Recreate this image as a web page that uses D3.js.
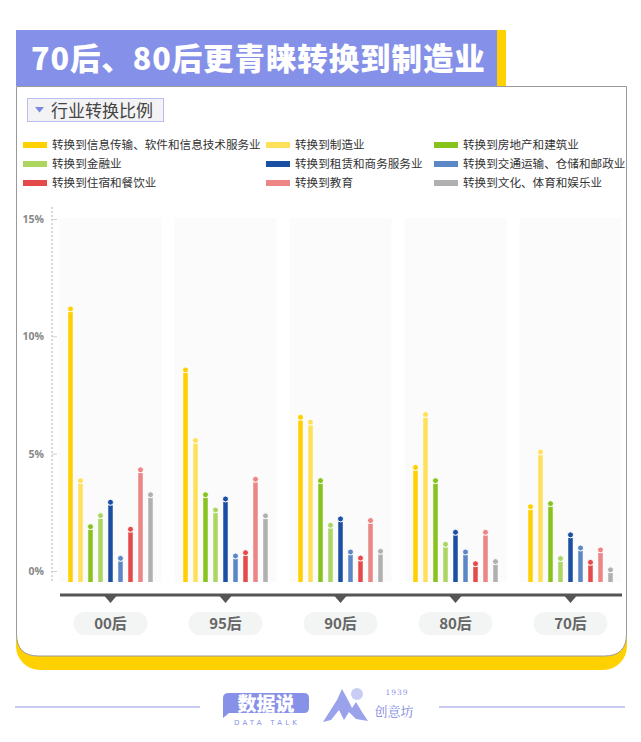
<!DOCTYPE html>
<html><head><meta charset="utf-8">
<script src="https://cdn.jsdelivr.net/npm/d3@7/dist/d3.min.js"></script>
<style>
html,body{margin:0;padding:0;background:#fff;}
svg{display:block;font-family:"Noto Sans CJK SC","Noto Sans",sans-serif;}
</style></head>
<body>
<svg id="c" width="641" height="742"></svg>
<script>
const title = "70后、80后更青睐转换到制造业";
const subtitle = "行业转换比例";
const groups = ["00后","95后","90后","80后","70后"];
const series = [
  "转换到信息传输、软件和信息技术服务业","转换到制造业","转换到房地产和建筑业",
  "转换到金融业","转换到租赁和商务服务业","转换到交通运输、仓储和邮政业",
  "转换到住宿和餐饮业","转换到教育","转换到文化、体育和娱乐业"
];
const colors = ["#ffd000","#ffe05a","#88c21c","#acd660","#1a4fa3","#5c87c6","#e44a4a","#ec8585","#b0b0b0"];
// values (%) per series, in order of groups
const v_it      = [11.17, 8.57, 6.55, 4.41, 2.74];
const v_mfg     = [3.85, 5.56, 6.34, 6.67, 5.07];
const v_estate  = [1.89, 3.25, 3.85, 3.85, 2.87];
const v_finance = [2.36, 2.60, 1.95, 1.14, 0.53];
const v_lease   = [2.93, 3.07, 2.22, 1.65, 1.54];
const v_trans   = [0.54, 0.64, 0.81, 0.81, 0.98];
const v_hotel   = [1.78, 0.78, 0.55, 0.31, 0.37];
const v_edu     = [4.31, 3.91, 2.15, 1.65, 0.90];
const v_culture = [3.25, 2.35, 0.84, 0.40, 0.05];
const seriesValues = [v_it, v_mfg, v_estate, v_finance, v_lease, v_trans, v_hotel, v_edu, v_culture];
const yTicks = [0, 5, 10, 15];

const svg = d3.select("#c");
svg.append("rect").attr("width",641).attr("height",742).attr("fill","#fff");

// yellow shadow + card
svg.append("rect").attr("x",16).attr("y",300).attr("width",611).attr("height",370).attr("rx",24).attr("fill","#ffd100");
const L=16.5,R=626.5,T=86.5,B=656,rr=22;
svg.append("path")
  .attr("d",`M${L},${T}H${R}V${B-rr}Q${R},${B} ${R-rr},${B}H${L+rr}Q${L},${B} ${L},${B-rr}Z`)
  .attr("fill","#fff").attr("stroke","#9a9a9a").attr("stroke-width",1);

// title band
svg.append("rect").attr("x",16).attr("y",30).attr("width",481).attr("height",56).attr("fill","#8591e8");
svg.append("rect").attr("x",497).attr("y",30).attr("width",9).attr("height",56).attr("fill","#ffd100");
svg.append("text").attr("x",31).attr("y",70).attr("fill","#fff")
  .attr("font-size",30.5).attr("font-weight",900).attr("letter-spacing",0.9).text(title);

// subtitle tag
svg.append("rect").attr("x",27.5).attr("y",98.5).attr("width",136).attr("height",23)
  .attr("fill","#f3f3f5").attr("stroke","#b9bef2");
svg.append("path").attr("d","M35,107 L44,107 L39.5,112.5 Z").attr("fill","#7c88e0");
svg.append("text").attr("x",51).attr("y",117).attr("fill","#444").attr("font-size",17).text(subtitle);

// legend
const legX = [23, 266, 434];
const legY = [145, 164, 183];
const leg = svg.append("g");
series.forEach((s,i)=>{
  const cx = legX[i%3], cy = legY[Math.floor(i/3)];
  leg.append("rect").attr("x",cx).attr("y",cy-3).attr("width",24).attr("height",6).attr("fill",colors[i]);
  leg.append("text").attr("x",cx+29).attr("y",cy+4.2).attr("font-size",11.6).attr("fill","#333").text(s);
});

// scales
const x0 = d3.scaleBand().domain(groups).range([53,628]).paddingInner(0.113).paddingOuter(0.0565);
const bw = x0.bandwidth();
const x1 = d3.scaleBand().domain(d3.range(series.length)).range([bw/2-45, bw/2+45]).paddingInner(0.55).paddingOuter(0.275);
const y = d3.scaleLinear().domain([0,15]).range([571,219]);
const baseY = 582;

// panels
svg.append("g").selectAll("rect").data(groups).join("rect")
  .attr("x",d=>x0(d)).attr("y",218).attr("width",bw).attr("height",baseY-218)
  .attr("fill","#fbfbfb");

// y axis
const yAxis = svg.append("g").attr("transform","translate(52,0)")
  .call(d3.axisLeft(y).tickValues(yTicks).tickFormat(d=>d+"%").tickSize(-5).tickPadding(8));
yAxis.select(".domain").remove();
yAxis.selectAll(".tick line").attr("stroke","#d0d0d0");
yAxis.selectAll(".tick text").attr("fill","#888").attr("font-size",10.5).attr("font-weight",700)
  .attr("font-family","'Open Sans','DejaVu Sans',sans-serif");
svg.append("line").attr("x1",52).attr("x2",52).attr("y1",207).attr("y2",baseY)
  .attr("stroke","#cfcfcf").attr("stroke-width",1.6).attr("stroke-dasharray","2,2");

// bars
const data = [];
groups.forEach((g,gi)=>series.forEach((s,si)=>data.push({g,si,v:seriesValues[si][gi]})));
const bars = svg.append("g");
const bwid = x1.bandwidth();
bars.selectAll("rect").data(data).join("rect")
  .attr("x",d=>x0(d.g)+x1(d.si)).attr("width",bwid)
  .attr("y",d=>y(d.v)+3).attr("height",d=>baseY-(y(d.v)+3))
  .attr("fill",d=>colors[d.si]);
bars.selectAll("circle").data(data).join("circle")
  .attr("cx",d=>x0(d.g)+x1(d.si)+bwid/2).attr("cy",d=>y(d.v))
  .attr("r",3).attr("fill",d=>colors[d.si]).attr("stroke","#fff").attr("stroke-width",1);

// x axis
svg.append("line").attr("x1",60).attr("x2",622).attr("y1",595).attr("y2",595)
  .attr("stroke","#555").attr("stroke-width",3);
const xg = svg.append("g").selectAll("g").data(groups).join("g")
  .attr("transform",d=>`translate(${x0(d)+bw/2},0)`);
xg.append("path").attr("d","M-6,596 L6,596 L0,603 Z").attr("fill","#555");
xg.append("rect").attr("x",-37).attr("y",612).attr("width",74).attr("height",23).attr("rx",11.5).attr("fill","#f3f5f5");
xg.append("text").attr("text-anchor","middle").attr("y",629).attr("font-size",15).attr("font-weight",700)
  .attr("fill","#666").text(d=>d);

// footer
svg.append("line").attr("x1",15).attr("x2",200).attr("y1",707).attr("y2",707).attr("stroke","#c8ccf2").attr("stroke-width",2);
svg.append("line").attr("x1",439).attr("x2",625).attr("y1",707).attr("y2",707).attr("stroke","#c8ccf2").attr("stroke-width",2);
svg.append("path").attr("d","M229,693 H304 Q309,693 309,698 V708 Q309,713 304,713 H229 L223,718 V698 Q223,693 229,693 Z")
  .attr("fill","#8891e8");
svg.append("text").attr("x",266).attr("y",711).attr("text-anchor","middle").attr("fill","#fff")
  .attr("font-size",19).attr("font-weight",900).text("数据说");
svg.append("text").attr("x",267).attr("y",725).attr("text-anchor","middle").attr("fill","#8891e8")
  .attr("font-size",7).attr("letter-spacing",3.2).attr("font-family","'DejaVu Sans',sans-serif").text("DATA TALK");
svg.append("circle").attr("cx",357).attr("cy",694).attr("r",6).attr("fill","#c9cdf3");
svg.append("path").attr("d","M323,722 L337,700 L342,689 L348,700 L352,708 L356,702 L362,712 L368,721 L356,719 L349,712 L344,720 L339,710 L331,720 Z")
  .attr("fill","#9aa2ec");
svg.append("text").attr("x",397).attr("y",695).attr("text-anchor","middle").attr("fill","#8891e8")
  .attr("font-size",7.5).attr("font-family","'DejaVu Serif',serif").attr("letter-spacing",1).text("1939");
svg.append("text").attr("x",394).attr("y",716).attr("text-anchor","middle").attr("fill","#7f88e0")
  .attr("font-size",13).attr("font-family","'Noto Serif CJK SC','Noto Sans CJK SC',serif").text("创意坊");
</script>
</body></html>
